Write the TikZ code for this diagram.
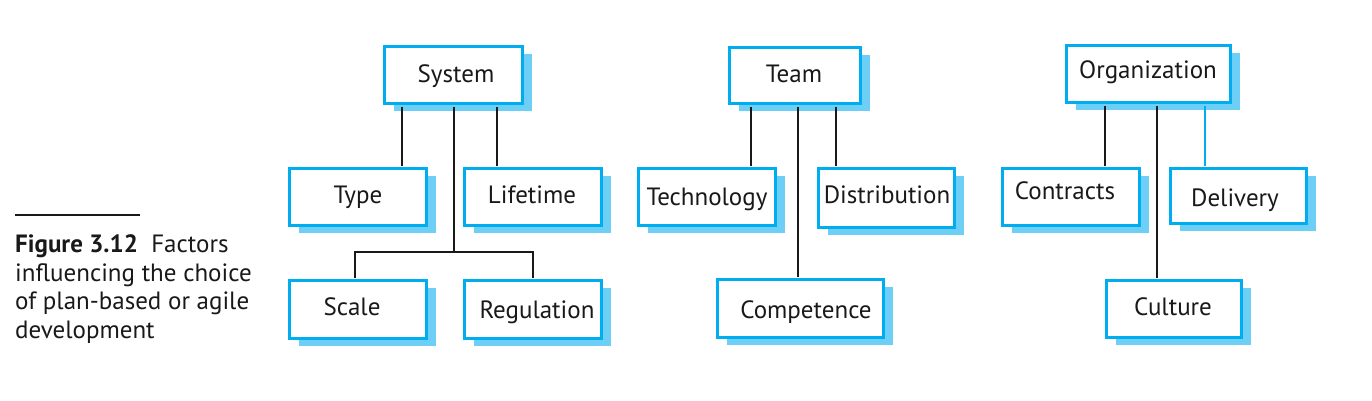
\documentclass[tikz,border=0pt]{standalone}
\usepackage{fontspec}
\setmainfont{PT Sans}
\usetikzlibrary{shadows}
\definecolor{cyanb}{HTML}{00AEEF}
\definecolor{shadowb}{HTML}{6DCFF6}
\tikzset{
  box/.style={draw=cyanb, line width=3pt, fill=white, inner sep=0pt,
    general shadow={fill=shadowb, shadow xshift=9pt, shadow yshift=-7pt}},
  conn/.style={draw=black!90, line width=1.5pt},
  connb/.style={draw=cyanb, line width=1.5pt},
  lab/.style={font=\fontsize{25}{29}\selectfont, text=black!90, inner sep=0pt,
    text height=0pt, text depth=0pt}
}
\newcommand\bx[8]{%
  \node[box, minimum width={(#4-#2-3)*1pt}, minimum height={(#5-#3-3)*1pt},
    label={[lab, xshift={(#7-(#2+#4)/2)*1pt}, yshift={((#3+#5)/2-#8)*1pt}]center:#6}]
    (#1) at ({(#2+#4)/2},{(#3+#5)/2}) {};}
\begin{document}
\begin{tikzpicture}[x=1pt,y=-1pt]
\useasboundingbox (0,0) rectangle (1372,400);
% boxes
\bx{sys}{383}{45}{524}{105}{System}{456}{82}
\bx{type}{288}{167}{428}{227}{Type}{358}{203}
\bx{life}{463}{167}{603}{227}{Lifetime}{532}{203}
\bx{scale}{288}{279}{428}{340}{Scale}{352}{315}
\bx{reg}{463}{279}{603}{340}{Regulation}{537}{318}
\bx{team}{728}{46}{862}{105}{Team}{794}{82}
\bx{tech}{637}{167}{777}{227}{Technology}{707}{205}
\bx{dist}{817}{167}{956}{229}{Distribution}{887}{203}
\bx{comp}{716}{278}{885}{339}{Competence}{806}{318}
\bx{org}{1065}{44}{1232}{104}{Organization}{1148}{78}
\bx{contr}{1001}{167}{1141}{227}{Contracts}{1065}{199}
\bx{deliv}{1169}{167}{1308}{225}{Delivery}{1235}{206}
\bx{cult}{1105}{279}{1243}{339}{Culture}{1173}{315}
% connectors
\draw[conn] ([yshift=-1.5pt]sys.south -| 402,0) -- ([yshift=1.5pt]type.north -| 402,0);
\draw[conn] ([yshift=-1.5pt]sys.south -| 497,0) -- ([yshift=1.5pt]life.north -| 497,0);
\coordinate (j) at (454,252);
\draw[conn] ([yshift=-1.5pt]sys.south -| j) -- (j);
\draw[conn] ([yshift=1.5pt]scale.north -| 355,0) |- (j) -| ([yshift=1.5pt]reg.north -| 533,0);
\draw[conn] ([yshift=-1.5pt]team.south -| 751,0) -- ([yshift=1.5pt]tech.north -| 751,0);
\draw[conn] ([yshift=-1.5pt]team.south -| 798,0) -- ([yshift=1.5pt]comp.north -| 798,0);
\draw[conn] ([yshift=-1.5pt]team.south -| 836,0) -- ([yshift=1.5pt]dist.north -| 836,0);
\draw[conn] ([yshift=-1.5pt]org.south -| 1105,0) -- ([yshift=1.5pt]contr.north -| 1105,0);
\draw[conn] ([yshift=-1.5pt]org.south -| 1157,0) -- ([yshift=1.5pt]cult.north -| 1157,0);
\draw[connb] ([yshift=-1.5pt]org.south -| 1205,0) -- ([yshift=1.5pt]deliv.north -| 1205,0);
% caption
\coordinate (rl) at (15,215);
\coordinate (rr) at (140,215);
\draw[line width=1.5pt, black!90] (rl) -- (rr);
\node[anchor=base west, align=left, inner sep=0pt, text=black!90,
  font=\fontsize{25}{28.5}\selectfont] (cap) at (15,338)
  {\textbf{Figure 3.12}\ \ Factors\\influencing the choice\\of plan-based or agile\\development};
\end{tikzpicture}
\end{document}
